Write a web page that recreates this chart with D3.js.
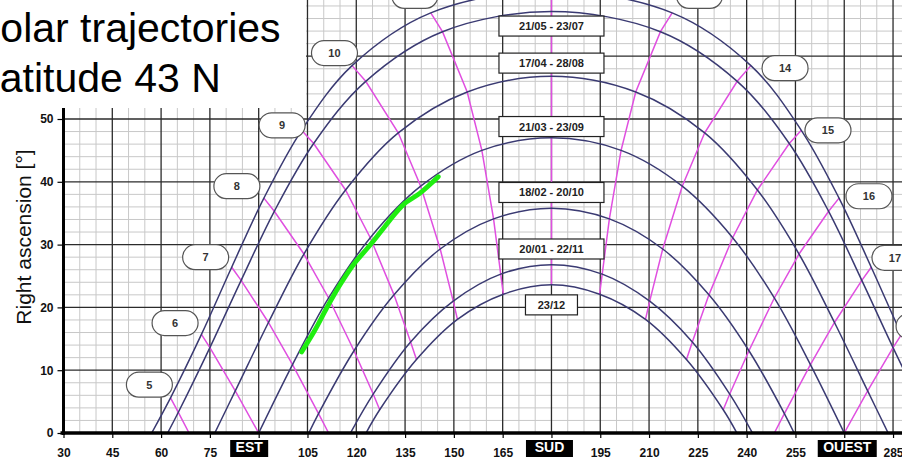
<!DOCTYPE html>
<html><head><meta charset="utf-8">
<script src="https://cdn.jsdelivr.net/npm/d3@7"></script>
<style>body{margin:0;background:#fff}svg{display:block}</style>
</head><body>
<svg id="c" width="902" height="462"></svg>
<script>
// ---------- DATA (azimuth [deg], altitude [deg]) ----------
const titleLines = ["Solar trajectories", "Latitude 43 N"];
const yTitle = "Right ascension [\u00b0]";
const xTicks = [30,45,60,75,90,105,120,135,150,165,180,195,210,225,240,255,270,285];
const xSpecial = {90:"EST", 180:"SUD", 270:"OUEST"};
const yTicks = [0,10,20,30,40,50];

const hours = [5,6,7,8,9,10,11,12,13,14,15,16,17,18,19];

const dateNames = ["21/06","21/05 - 23/07","17/04 - 28/08","21/03 - 23/09","18/02 - 20/10","20/01 - 22/11","23/12"];
const dateLabelAlt = [null, 64.8, 58.9, 48.8, 38.3, 29.3, 20.4];
const riseAz = [57.1, 62.0, 76.5, 90.0, 105.4, 118.2, 123.0];
const setAz  = [302.9, 298.0, 283.5, 270.0, 254.6, 241.8, 237.0];

const az2106  = [62.9, 72.4, 81.7, 91.6, 103.2, 118.7, 142.9, 180, 217.1, 241.3, 256.8, 268.4, 278.3, 287.6, 297.1];
const alt2106 = [5.6, 15.7, 26.4, 37.4, 48.2, 58.5, 66.9, 70.4, 66.9, 58.5, 48.2, 37.4, 26.4, 15.7, 5.6];
const az2105  = [65.3, 75.0, 84.6, 94.8, 106.9, 122.9, 146.5, 180, 213.5, 237.1, 253.1, 265.2, 275.4, 285.0, 294.7];
const alt2105 = [3.3, 13.6, 24.3, 35.3, 46.1, 56.0, 63.9, 67.1, 63.9, 56.0, 46.1, 35.3, 24.3, 13.6, 3.3];
const az1704  = [null, 82.8, 93.0, 103.9, 116.7, 132.9, 154.1, 180, 205.9, 227.1, 243.3, 256.1, 267.0, 277.2, null];
const alt1704 = [null, 6.7, 17.6, 28.5, 38.7, 47.8, 54.3, 56.8, 54.3, 47.8, 38.7, 28.5, 17.6, 6.7, null];
const az2103  = [null, 90.0, 100.4, 111.5, 124.3, 139.8, 158.6, 180, 201.4, 220.2, 235.7, 248.5, 259.6, 270.0, null];
const alt2103 = [null, 0, 10.9, 21.5, 31.1, 39.3, 45.0, 47.0, 45.0, 39.3, 31.1, 21.5, 10.9, 0, null];
const az1802  = [null, null, 108.4, 119.3, 131.6, 145.8, 162.2, 180, 197.8, 214.2, 228.4, 240.7, 251.6, null, null];
const alt1802 = [null, null, 3.1, 13.1, 22.0, 29.3, 34.1, 35.8, 34.1, 29.3, 22.0, 13.1, 3.1, null, null];
const az2001  = [null, null, null, 125.2, 136.7, 149.8, 164.4, 180, 195.6, 210.2, 223.3, 234.8, null, null, null];
const alt2001 = [null, null, null, 6.2, 14.5, 21.0, 25.3, 26.8, 25.3, 21.0, 14.5, 6.2, null, null, null];
const az2312  = [null, null, null, 127.2, 138.5, 151.1, 165.2, 180, 194.8, 208.9, 221.5, 232.8, null, null, null];
const alt2312 = [null, null, null, 3.7, 11.7, 18.1, 22.1, 23.6, 22.1, 18.1, 11.7, 3.7, null, null, null];

// hour lines that end on the horizon between two dates
const hourEndAz = [68.6, null, 111.5, null, null, null, null, null, null, null, null, null, 248.5, null, 291.4];

// hour label anchors (centre of the pill)
const labelHours = [5,6,7,8,9,10,11,13,14,15,16,17,18];
const labelAz    = [56.4, 64.3, 73.7, 83.3, 97.2, 113.3, 138.0, 225.5, 251.8, 265.0, 277.6, 285.6, 293.0];
const labelAlt   = [7.7, 17.5, 28.0, 39.3, 49.0, 60.5, 69.6, 69.6, 58.1, 48.2, 37.7, 27.9, 17.0];

// measured trajectory (green)
const greenAz  = [103.2, 107.3, 110.9, 115.0, 119.1, 124.2, 128.8, 132.4, 135.0, 139.6, 145.2];
const greenAlt = [12.9, 16.4, 19.9, 23.6, 26.8, 29.9, 32.9, 35.2, 36.6, 38.2, 40.8];

// ---------- DRAW ----------
const azData  = [az2106, az2105, az1704, az2103, az1802, az2001, az2312];
const altData = [alt2106, alt2105, alt1704, alt2103, alt1802, alt2001, alt2312];

const FONT = "'Liberation Sans', Arial, Helvetica, sans-serif";
const svg = d3.select("#c").style("font-family", FONT);
svg.append("rect").attr("width",902).attr("height",462).attr("fill","#fff");

const x = d3.scaleLinear().domain([30, 288]).range([63.5, 902.8]);
const y = d3.scaleLinear().domain([0, 70]).range([433, -6.6]);

svg.append("defs").append("clipPath").attr("id","clip")
  .append("rect").attr("x",63.5).attr("y",-10).attr("width",842).attr("height",443);

const plot = svg.append("g").attr("clip-path","url(#clip)");

// grid
const g = plot.append("g");
g.selectAll(".vmin").data(d3.range(30, 290, 5).filter(v => v % 15 !== 0)).join("line")
  .attr("x1", d => x(d)).attr("x2", d => x(d)).attr("y1", y(0)).attr("y2", y(72))
  .attr("stroke","#c8c8c8").attr("stroke-width",1);
g.selectAll(".hmin").data(d3.range(0, 72, 2).filter(v => v % 10 !== 0)).join("line")
  .attr("y1", d => y(d)).attr("y2", d => y(d)).attr("x1", x(30)).attr("x2", x(288))
  .attr("stroke","#c8c8c8").attr("stroke-width",1);
g.selectAll(".vmaj").data(d3.range(30, 290, 15)).join("line")
  .attr("x1", d => x(d)).attr("x2", d => x(d)).attr("y1", y(0)).attr("y2", y(72))
  .attr("stroke","#2b2b2b").attr("stroke-width",1.3);
g.selectAll(".hmaj").data(d3.range(0, 72, 10)).join("line")
  .attr("y1", d => y(d)).attr("y2", d => y(d)).attr("x1", x(30)).attr("x2", x(288))
  .attr("stroke","#2b2b2b").attr("stroke-width",1.3);

// hour lines
const lin = d3.line().x(d => x(d[0])).y(d => y(d[1]));
hours.forEach((h, i) => {
  const pts = [];
  azData.forEach((arr, k) => { if (arr[i] !== null) pts.push([arr[i], altData[k][i]]); });
  if (hourEndAz[i] !== null) pts.push([hourEndAz[i], 0]);
  plot.append("path").attr("d", lin(pts)).attr("fill","none")
    .attr("stroke","#e04fe0").attr("stroke-width",1.5);
});

// date curves
const smooth = d3.line().x(d => x(d[0])).y(d => y(d[1])).curve(d3.curveCatmullRom.alpha(0.5));
azData.forEach((arr, k) => {
  const pts = [[riseAz[k], 0]];
  arr.forEach((a, i) => { if (a !== null && altData[k][i] > 0) pts.push([a, altData[k][i]]); });
  pts.push([setAz[k], 0]);
  plot.append("path").attr("d", smooth(pts)).attr("fill","none")
    .attr("stroke","#3a3a72").attr("stroke-width",1.5);
});

// green trajectory
plot.append("path")
  .attr("d", d3.line().x(d => x(d[0])).y(d => y(d[1])).curve(d3.curveCatmullRom)(greenAz.map((a,i)=>[a, greenAlt[i]])))
  .attr("fill","none").attr("stroke","#1fee10").attr("stroke-width",4.8).attr("stroke-linecap","round");

// date label boxes
dateNames.forEach((n, k) => {
  if (dateLabelAlt[k] === null) return;
  const w = n.length > 6 ? 105 : 52;
  const cx = x(180), cy = y(dateLabelAlt[k]);
  plot.append("rect").attr("x", cx - w/2).attr("y", cy - 10).attr("width", w).attr("height", 20)
    .attr("fill","#fff").attr("stroke","#222").attr("stroke-width",1.2);
  plot.append("text").attr("x", cx).attr("y", cy + 4).attr("text-anchor","middle")
    .attr("font-size",11).attr("font-weight","bold").attr("fill","#222").text(n);
});

// hour labels (pills)
labelHours.forEach((h, i) => {
  const cx = x(labelAz[i]), cy = y(labelAlt[i]);
  plot.append("rect").attr("x", cx - 23).attr("y", cy - 12.5).attr("width", 46).attr("height", 25)
    .attr("rx", 12.5).attr("fill","#fff").attr("stroke","#555").attr("stroke-width",1.2);
  plot.append("text").attr("x", cx).attr("y", cy + 4).attr("text-anchor","middle")
    .attr("font-size",11).attr("font-weight","bold").attr("fill","#333").text(h);
});

// title box
svg.append("rect").attr("x",0).attr("y",0).attr("width",306).attr("height",108).attr("fill","#fff");
svg.append("text").attr("x",-27).attr("y",42).attr("font-size",41).attr("fill","#000").text(titleLines[0]);
svg.append("text").attr("x",-23).attr("y",92).attr("font-size",41).attr("fill","#000").text(titleLines[1]);

// axes
const ax = svg.append("g").attr("transform", `translate(0,${y(0)})`)
  .call(d3.axisBottom(x).tickValues(xTicks).tickSize(5).tickPadding(10)
    .tickFormat(d => xSpecial[d] || d));
ax.select(".domain").remove();
ax.selectAll("text").attr("font-size",12).attr("font-weight","bold").attr("fill","#111").attr("font-family",FONT);
ax.selectAll("line").attr("stroke","#000").attr("stroke-width",1.2);
const spW = {90:38, 180:47, 270:59}, spDx = {90:-10, 180:-2.5, 270:2.5};
ax.selectAll(".tick").filter(d => xSpecial[d]).each(function(d){
  const t = d3.select(this);
  t.insert("rect","text").attr("x", spDx[d] - spW[d]/2).attr("y", 7).attr("width", spW[d]).attr("height", 17).attr("fill","#000");
  t.select("text").attr("fill","#fff").attr("font-size",14).attr("dx", spDx[d]).attr("y", 9);
});

const ay = svg.append("g").attr("transform", `translate(${x(30)},0)`)
  .call(d3.axisLeft(y).tickValues(yTicks).tickSize(6).tickPadding(4));
ay.select(".domain").remove();
ay.selectAll("text").attr("font-size",12).attr("font-weight","bold").attr("fill","#111").attr("font-family",FONT);
ay.selectAll("line").attr("stroke","#000").attr("stroke-width",1.2);

// thick axis lines
svg.append("line").attr("x1", x(30)).attr("x2", x(30)).attr("y1", 108).attr("y2", y(0) + 2)
  .attr("stroke","#000").attr("stroke-width",3);
svg.append("line").attr("x1", x(30) - 3).attr("x2", 902).attr("y1", y(0)).attr("y2", y(0))
  .attr("stroke","#000").attr("stroke-width",3.5);

// y title
svg.append("text").attr("transform","translate(31,237) rotate(-90)").attr("text-anchor","middle")
  .attr("font-size",21).attr("fill","#111").text(yTitle);
</script>
</body></html>
